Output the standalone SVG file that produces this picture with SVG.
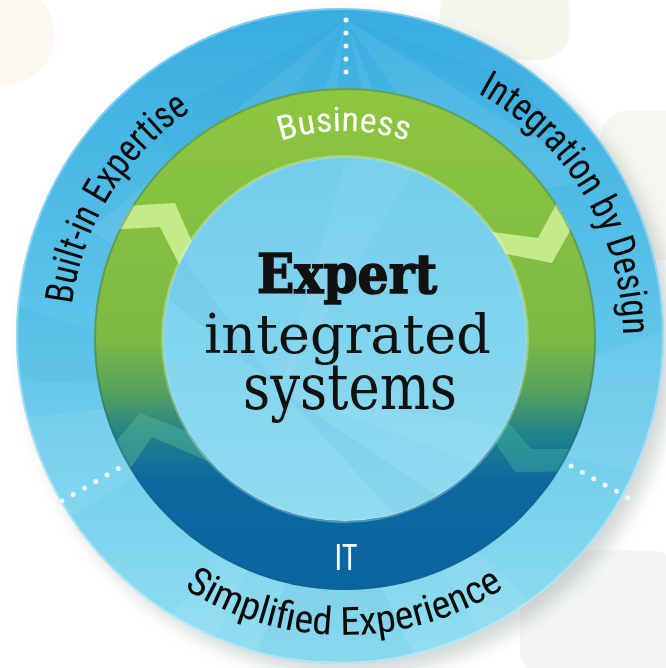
<svg xmlns="http://www.w3.org/2000/svg" width="666" height="668" viewBox="0 0 666 668">
<style>
.arc{font-family:"Liberation Sans Narrow","Roboto Condensed","DejaVu Sans Condensed","Liberation Sans",sans-serif;font-stretch:condensed;}
.out{fill:#0a0a0a;font-size:39px;}
.inw{fill:#ffffff;}
.ctr{font-family:"DejaVu Serif","Liberation Serif",serif;fill:#111111;text-anchor:middle;}
.dots{fill:none;stroke:#e8f8fd;stroke-width:5;stroke-linecap:round;stroke-dasharray:0 13;}
.facetL{fill:#ffffff;opacity:0.07;}
.facetD{fill:#1a8fc8;opacity:0.07;}
</style>
<defs>
<linearGradient id="gOuter" x1="0" y1="0" x2="0" y2="1">
<stop offset="0" stop-color="#38ade0"/>
<stop offset="0.5" stop-color="#5fc5ea"/>
<stop offset="1" stop-color="#93dff0"/>
</linearGradient>
<linearGradient id="gInner" x1="0" y1="0" x2="0" y2="1">
<stop offset="0" stop-color="#72cdec"/>
<stop offset="1" stop-color="#90dcf0"/>
</linearGradient>
<linearGradient id="gRing" gradientUnits="userSpaceOnUse" x1="0" y1="88" x2="0" y2="590">
<stop offset="0" stop-color="#8dc63f"/>
<stop offset="0.5" stop-color="#7dba44"/>
<stop offset="0.6" stop-color="#58a25c"/>
<stop offset="0.69" stop-color="#22828a"/>
<stop offset="0.78" stop-color="#0b699f"/>
<stop offset="1" stop-color="#0a64a0"/>
</linearGradient>
<clipPath id="clipRing">
<path d="M94,339 A251,251 0 1 0 596,339 A251,251 0 1 0 94,339 Z M163,339 A182,182 0 1 1 527,339 A182,182 0 1 1 163,339 Z" clip-rule="evenodd"/>
</clipPath>
<clipPath id="clipOuter">
<ellipse cx="340" cy="336" rx="324" ry="328"/>
</clipPath>
<filter id="shadow" x="-20%" y="-20%" width="140%" height="140%">
<feGaussianBlur stdDeviation="9"/>
</filter>
<path id="pBuilt" d="M103.2,468.8 A274,274 0 0 1 351.2,64.1"/>
<path id="pInteg" d="M339.1,59 A279,279 0 0 1 588,473.3"/>
<path id="pBus" d="M164.7,234.5 A207,207 0 0 1 523.3,234.5"/>
<path id="pSimp" d="M86.8,486.5 A297,297 0 0 0 601.2,486.5"/>
</defs>

<g id="background">
<rect width="666" height="668" fill="#ffffff"/>
<circle cx="5" cy="35" r="50" fill="#fdf3ea" opacity="0.6"/>
<rect x="440" y="-20" width="130" height="80" rx="30" fill="#f5f6ee"/>
<rect x="600" y="110" width="100" height="150" rx="30" fill="#f6f7f0"/>
<rect x="520" y="550" width="160" height="130" rx="30" fill="#f4f6f6"/>
<ellipse cx="350" cy="346" rx="324" ry="328" fill="#6b7b80" opacity="0.3" filter="url(#shadow)"/>
</g>

<g id="outer-disc">
<ellipse cx="340" cy="336" rx="324" ry="328" fill="url(#gOuter)"/>
<g clip-path="url(#clipOuter)">
<polygon class="facetL" points="346,20 250,340 300,340"/>
<polygon class="facetL" points="346,20 420,340 470,340"/>
<polygon class="facetD" points="346,20 150,120 200,200"/>
<polygon class="facetD" points="346,20 560,140 520,80"/>
<polygon class="facetL" points="346,20 470,200 600,180"/>
<polygon class="facetL" points="346,20 90,230 150,270"/>
<polygon class="facetL" points="0,420 280,390 0,560"/>
<polygon class="facetD" points="0,300 280,390 0,380"/>
<polygon class="facetL" points="666,330 420,420 666,480"/>
<polygon class="facetD" points="250,668 330,480 420,668"/>
<polygon class="facetL" points="130,668 300,460 200,668"/>
<polygon class="facetL" points="500,668 380,460 600,668"/>
</g>
<ellipse cx="340" cy="336" rx="323" ry="327" fill="none" stroke="#ffffff" stroke-opacity="0.35" stroke-width="2"/>
</g>

<g id="inner-disc">
<circle cx="345" cy="339" r="182" fill="url(#gInner)"/>
<g clip-path="url(#clipOuter)" opacity="0.9">
<polygon class="facetL" points="280,390 345,160 420,160"/>
<polygon class="facetD" points="280,390 170,300 170,240"/>
<polygon class="facetL" points="280,390 520,430 520,480"/>
<polygon class="facetD" points="280,390 400,520 460,510"/>
</g>
<circle cx="345" cy="339" r="182" fill="none" stroke="#ffffff" stroke-opacity="0.25" stroke-width="2"/>
</g>

<g id="ring">
<path d="M94,339 A251,251 0 1 0 596,339 A251,251 0 1 0 94,339 Z M163,339 A182,182 0 1 1 527,339 A182,182 0 1 1 163,339 Z" fill="url(#gRing)" fill-rule="evenodd"/>
<g clip-path="url(#clipRing)">
<polygon points="90,208 175,203 210,283 192,290 160,227 90,231" fill="#c5ea8a"/>
<polygon points="470,229 538,238 569,180 593,190 552,263 470,247" fill="#c5ea8a"/>
<polygon points="100,460 140,413 210,440 210,462 152,437 112,495" fill="#5ab79a" opacity="0.45"/>
<polygon points="485,395 531,449 610,449 610,471 515,472 480,420" fill="#3fb0a0" opacity="0.45"/>
</g>
<circle cx="345" cy="339" r="250" fill="none" stroke="#1d5f80" stroke-opacity="0.35" stroke-width="2"/>
<circle cx="345" cy="339" r="183" fill="none" stroke="#ffffff" stroke-opacity="0.3" stroke-width="2"/>
</g>

<g id="connectors">
<line class="dots" x1="346" y1="20" x2="346" y2="76"/>
<line class="dots" x1="62" y1="501" x2="121" y2="467"/>
<line class="dots" x1="571" y1="466" x2="632" y2="500"/>
</g>

<g id="label-business">
<text class="arc inw" font-size="34"><textPath href="#pBus" startOffset="50%" text-anchor="middle" textLength="129" lengthAdjust="spacingAndGlyphs">Business</textPath></text>
</g>
<g id="label-it">
<text class="arc inw" x="346" y="570" font-size="37" text-anchor="middle" textLength="23" lengthAdjust="spacingAndGlyphs">IT</text>
</g>
<g id="label-built-in">
<text class="arc out"><textPath href="#pBuilt" startOffset="50%" text-anchor="middle" textLength="234" lengthAdjust="spacingAndGlyphs">Built-in Expertise</textPath></text>
</g>
<g id="label-integration">
<text class="arc out"><textPath href="#pInteg" startOffset="50%" text-anchor="middle" textLength="296" lengthAdjust="spacingAndGlyphs">Integration by Design</textPath></text>
</g>
<g id="label-simplified">
<text class="arc out"><textPath href="#pSimp" startOffset="50%" text-anchor="middle" textLength="338" lengthAdjust="spacingAndGlyphs">Simplified Experience</textPath></text>
</g>

<g id="center-title">
<text class="ctr" x="347" y="293" font-size="54" font-weight="bold" stroke="#111111" stroke-width="1.6" textLength="180" lengthAdjust="spacingAndGlyphs">Expert</text>
<text class="ctr" x="347.5" y="353" font-size="55" textLength="287" lengthAdjust="spacingAndGlyphs">integrated</text>
<text class="ctr" x="350" y="409" font-size="63" textLength="214" lengthAdjust="spacingAndGlyphs">systems</text>
</g>
</svg>
